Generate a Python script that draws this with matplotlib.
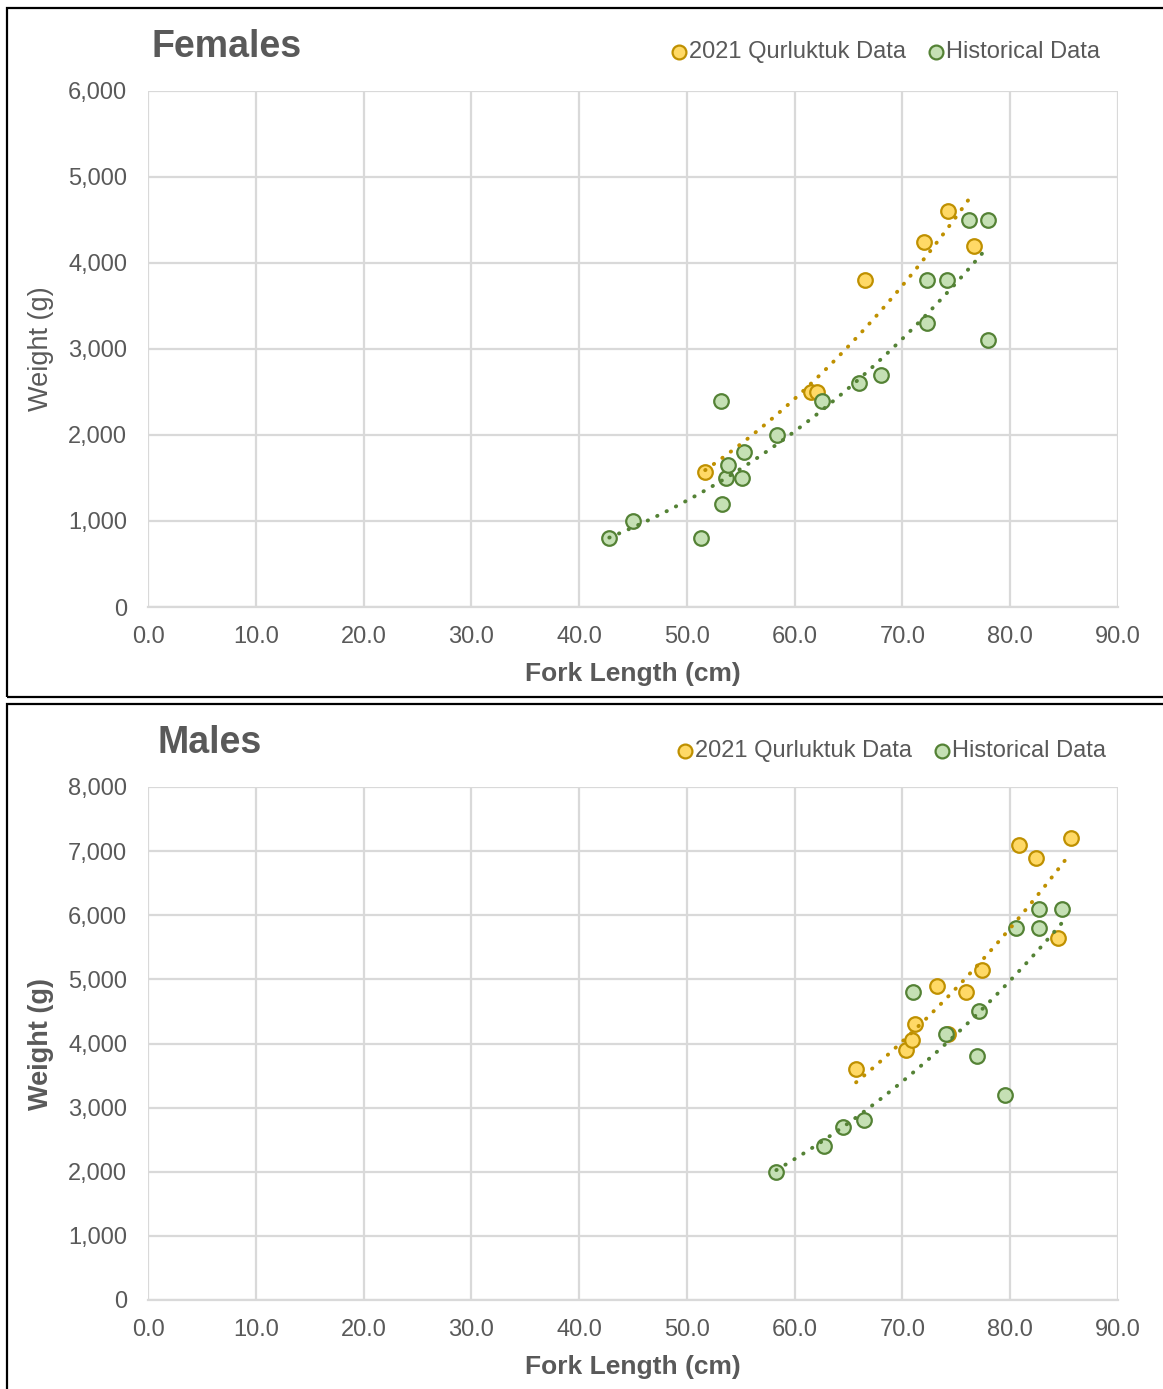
import matplotlib
matplotlib.use("Agg")
import matplotlib.pyplot as plt
from matplotlib.patches import Rectangle
from matplotlib.ticker import FuncFormatter, MultipleLocator
import numpy as np

plt.rcParams["font.family"] = ["Liberation Sans", "DejaVu Sans"]

# Females: fork length (cm) and weight (g)
fem_2021_len = [51.7, 61.5, 62.1, 66.5, 72.0, 74.2, 76.6]
fem_2021_wt = [1570, 2500, 2500, 3800, 4250, 4600, 4200]
fem_hist_len = [42.8, 45.0, 51.3, 53.2, 53.3, 53.6, 53.8, 55.1, 55.3, 58.4,
                62.5, 66.0, 68.0, 72.3, 72.3, 74.1, 76.2, 77.9, 77.9]
fem_hist_wt = [800, 1000, 800, 2400, 1200, 1500, 1650, 1500, 1800, 2000,
               2400, 2600, 2700, 3300, 3800, 3800, 4500, 4500, 3100]

# Males
male_2021_len = [65.7, 70.3, 70.9, 71.2, 73.2, 74.2, 75.9, 77.4, 80.8, 82.4, 84.4, 85.6]
male_2021_wt = [3600, 3900, 4050, 4300, 4900, 4150, 4800, 5150, 7100, 6900, 5650, 7200]
male_hist_len = [58.3, 62.7, 64.5, 66.4, 71.0, 74.0, 77.1, 76.9, 79.5, 80.5, 82.7, 82.7, 84.8]
male_hist_wt = [2000, 2400, 2700, 2800, 4800, 4150, 4500, 3800, 3200, 5800, 6100, 5800, 6100]

YELLOW_FILL, YELLOW_EDGE = "#ffd966", "#bf9000"
GREEN_FILL, GREEN_EDGE = "#c5e0b4", "#548235"
TEXT = "#595959"
GRID = "#d9d9d9"

W, H = 1163, 1389
fig = plt.figure(figsize=(W / 100, H / 100), dpi=100)


def fx(px):
    return px / W


def fy(py):
    return 1 - py / H


def power_trend(ax, x, y, color):
    # Excel-style power trendline: y = a * x^b
    x = np.asarray(x, float)
    y = np.asarray(y, float)
    b, log_a = np.polyfit(np.log(x), np.log(y), 1)
    xs = np.linspace(x.min(), x.max(), 200)
    ax.plot(xs, np.exp(log_a) * xs ** b, color=color, lw=2.8,
            linestyle=(0, (0.1, 2.6)), dash_capstyle="round", zorder=4)


def panel(top, bottom, ymax, title, data, ylabel_bold, frame_top, frame_bottom,
          title_x, legend_y, legend_x):
    fig.patches.append(Rectangle((fx(7), fy(frame_bottom)), 1.2, fy(frame_top) - fy(frame_bottom),
                                 transform=fig.transFigure, fill=False,
                                 edgecolor="black", lw=1.6, zorder=10))
    ax = fig.add_axes([fx(148), fy(bottom), fx(1118) - fx(148), fy(top) - fy(bottom)])
    l21, w21, lh, wh = data
    ax.scatter(l21, w21, s=110, facecolor=YELLOW_FILL, edgecolor=YELLOW_EDGE,
               linewidth=1.6, zorder=3, label="2021 Qurluktuk Data")
    ax.scatter(lh, wh, s=110, facecolor=GREEN_FILL, edgecolor=GREEN_EDGE,
               linewidth=1.6, zorder=3, label="Historical Data")
    power_trend(ax, l21, w21, YELLOW_EDGE)
    power_trend(ax, lh, wh, GREEN_EDGE)

    ax.set_xlim(0, 90)
    ax.set_ylim(0, ymax)
    ax.xaxis.set_major_locator(MultipleLocator(10))
    ax.yaxis.set_major_locator(MultipleLocator(1000))
    ax.xaxis.set_major_formatter(FuncFormatter(lambda v, p: f"{v:.1f}"))
    ax.yaxis.set_major_formatter(FuncFormatter(lambda v, p: f"{int(v):,}"))
    ax.grid(True, color=GRID, lw=1.6)
    ax.set_axisbelow(True)
    for s in ["top", "right", "left"]:
        ax.spines[s].set_visible(False)
    ax.spines["bottom"].set_color(GRID)
    ax.spines["bottom"].set_linewidth(1.6)
    ax.tick_params(length=0, labelsize=17, labelcolor=TEXT)
    ax.tick_params(axis="x", pad=14)
    ax.tick_params(axis="y", pad=15)

    ax.set_xlabel("Fork Length (cm)", fontsize=19, fontweight="bold", color=TEXT, labelpad=10)
    ax.set_ylabel("Weight (g)", fontsize=19.5, color=TEXT,
                  fontweight="bold" if ylabel_bold else "normal")
    ax.yaxis.set_label_coords(-(148 - 54) / 970, 0.5)

    fig.text(fx(title_x), fy(top - 44), title, fontsize=27, fontweight="bold",
             color=TEXT, va="center", ha="left")
    leg = fig.legend(handles=ax.collections[:2], loc="center left",
                     bbox_to_anchor=(fx(legend_x), fy(legend_y)), ncol=2, frameon=False,
                     fontsize=17, handletextpad=0.0, columnspacing=0.8,
                     markerscale=0.95, borderaxespad=0, borderpad=0, handlelength=0.9)
    for t in leg.get_texts():
        t.set_color(TEXT)
    return ax


panel(91, 607, 6000, "Females", (fem_2021_len, fem_2021_wt, fem_hist_len, fem_hist_wt),
      False, 8, 697, 152, 52, 668)
panel(787, 1300, 8000, "Males", (male_2021_len, male_2021_wt, male_hist_len, male_hist_wt),
      True, 704, 1400, 158, 751, 674)

fig.savefig("out.png", dpi=100)
